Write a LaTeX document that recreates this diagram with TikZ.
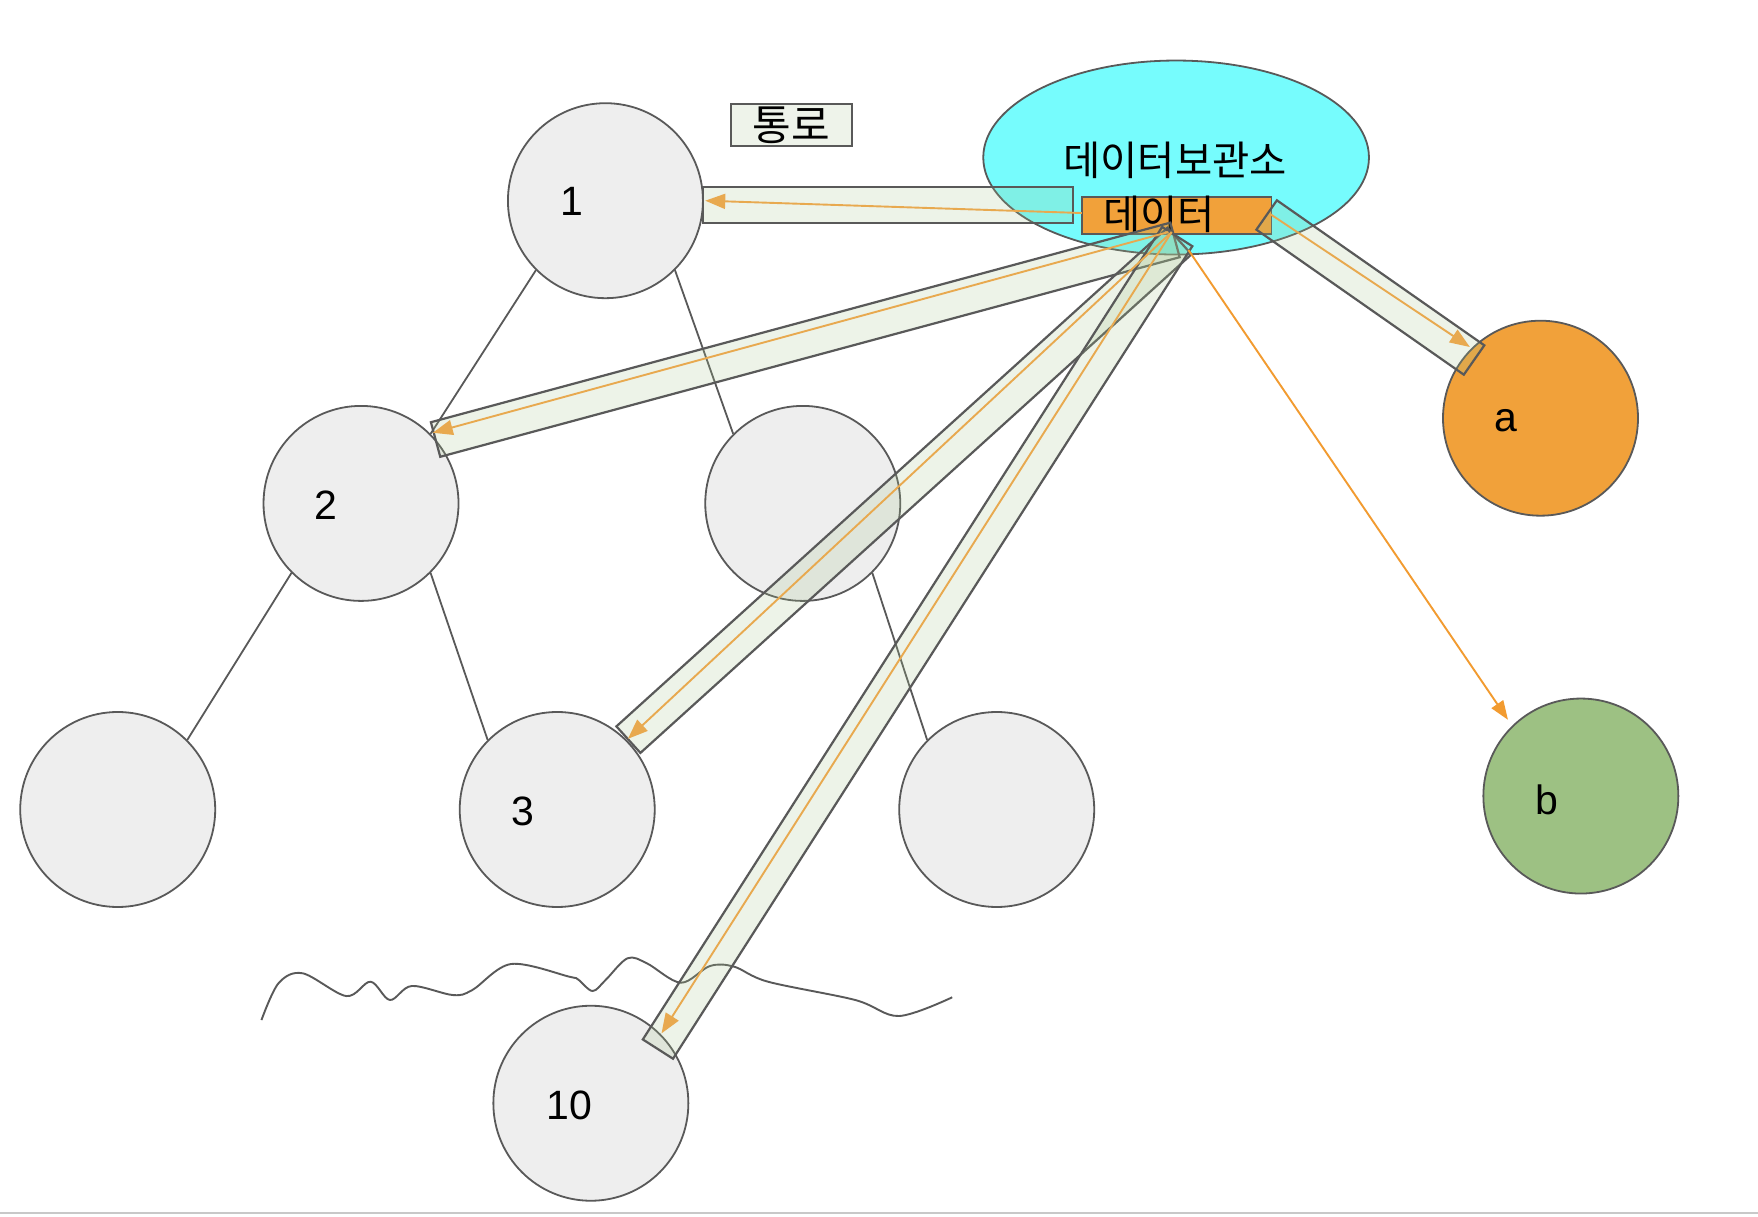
\documentclass[tikz,border=0pt]{standalone}
\usepackage{fontspec}
\setmainfont{Liberation Sans}
\newfontfamily\kr{Noto Sans CJK KR}
\usetikzlibrary{arrows.meta,calc,shapes.geometric}
\definecolor{nodegray}{HTML}{EEEEEE}
\definecolor{edgegray}{HTML}{595959}
\definecolor{orangeA}{HTML}{F1A13A}
\definecolor{greenB}{HTML}{9DC183}
\definecolor{cyanS}{HTML}{76FCFD}
\definecolor{tubefill}{RGB}{165,196,140}
\definecolor{arrowor}{HTML}{E8A94F}
\definecolor{lineor}{HTML}{F29B30}
\definecolor{passfill}{HTML}{EEF3EA}
\definecolor{framegray}{HTML}{C8C8C8}
\tikzset{
  tnode/.style={circle, minimum size=195pt, inner sep=0pt, draw=edgegray, line width=1.8pt, fill=nodegray},
  numlbl/.style={inner sep=0pt, font=\fontsize{41}{45}\selectfont},
  krlbl/.style={inner sep=0pt, font=\kr\fontsize{40.5}{44}\selectfont},
  treeedge/.style={draw=edgegray, line width=1.8pt},
  tube/.style={draw=edgegray, line width=2.2pt, fill=tubefill, fill opacity=0.2},
  flowarrow/.style={draw=arrowor, line width=1.9pt, -{Triangle[length=20pt,width=15pt]}},
  directarrow/.style={draw=lineor, line width=1.9pt, -{Triangle[length=19pt,width=14pt]}},
}
\newcommand\tubepath[2]{\path[tube] ($(#1)!17.9pt!90:(#2)$) -- ($(#2)!17.9pt!-90:(#1)$) -- ($(#2)!17.9pt!90:(#1)$) -- ($(#1)!17.9pt!-90:(#2)$) -- cycle;}
\begin{document}
\begin{tikzpicture}[x=1.12117pt, y=-1.12117pt]
\useasboundingbox (0,0) rectangle (1568,1084.6);
\fill[white] (0,0) rectangle (1568,1084.6);
\draw[framegray, line width=2pt] (0,1082) -- (1568,1082);

% tree nodes
\node[tnode] (n1) at (540,179) {};
\node[tnode] (n2) at (322,449) {};
\node[tnode] (nR) at (716,449) {};
\node[tnode] (nBL) at (105,722) {};
\node[tnode] (n3) at (497,722) {};
\node[tnode] (nBR) at (889,722) {};
\node[tnode] (n10) at (527,984) {};
\node[tnode, fill=orangeA] (na) at (1374,373) {};
\node[tnode, fill=greenB] (nb) at (1410,710) {};

\path[treeedge] (n1.225) -- (n2.45);
\path[treeedge] (n1.315) -- (nR.135);
\path[treeedge] (n2.225) -- (nBL.45);
\path[treeedge] (n2.315) -- (n3.135);
\path[treeedge] (nR.315) -- (nBR.135);

\node[numlbl] (l1) at (510,180) {1};
\node[numlbl] (l2) at (291,451) {2};
\node[numlbl] (l3) at (466,724) {3};
\node[numlbl] (l10) at (508,986) {10};
\node[numlbl] (la) at (1343,375) {a};
\node[numlbl] (lb) at (1380,713) {b};

% wavy line
\draw[edgegray, line width=1.9pt] plot[smooth, tension=0.55] coordinates {
 (233.2,909.8) (248.4,877) (270,868.1) (308.9,888.4) (330.5,875.6) (347.8,891.9)
 (367.3,879.4) (404,887.5) (421.3,883) (455.9,859.8) (507.7,871.1) (515.5,873.5)
 (528.5,883.9) (540.2,874) (559.7,854.7) (577,859.2) (607.2,876.5) (633.2,861.6)
 (654.8,862.2) (685,875.6) (762.8,891.9) (801.7,906.2) (849.3,889.5)};

% store
\node[ellipse, minimum width=385.7pt, minimum height=194pt, inner sep=0pt, draw=edgegray, line width=1.8pt, fill=cyanS] (store) at (1049,140.5) {};
\node[krlbl] (storelbl) at (1048,143) {데이터보관소};
\node[rectangle, minimum width=189.5pt, minimum height=37pt, inner sep=0pt, draw=edgegray, line width=1.8pt, fill=orangeA] (data) at (1049.5,192) {};
\node[krlbl] (datalbl) at (1034,191) {데이터};

% passage legend
\node[rectangle, minimum width=121pt, minimum height=41.5pt, inner sep=0pt, draw=edgegray, line width=1.8pt, fill=passfill, krlbl, font=\kr\fontsize{42}{46}\selectfont] (pass) at (706,111.5) {통로};

% tube axes
\coordinate (s1) at (957,183);   \coordinate (e1) at (627,183);
\coordinate (s2) at (1048,214);  \coordinate (e2) at (388.5,392);
\coordinate (s3) at (1052,215);  \coordinate (e3) at (560.5,659.7);
\coordinate (s10) at (1050,211); \coordinate (e10) at (586.8,935.7);
\coordinate (sa) at (1129.75,191.75); \coordinate (ea) at (1314.75,321.1);
\tubepath{s1}{e1}
\tubepath{s2}{e2}
\tubepath{s3}{e3}
\tubepath{s10}{e10}
\tubepath{sa}{ea}

% flow arrows
\coordinate (f1) at (965,190);   \coordinate (g1) at (629,179);
\coordinate (f2) at (1042,207);  \coordinate (g2) at (386,386);
\coordinate (f3) at (1045,207);  \coordinate (g3) at (560,659);
\coordinate (f10) at (1045,207); \coordinate (g10) at (590,921.7);
\coordinate (fa) at (1133,191);  \coordinate (ga) at (1311,309.5);
\coordinate (fb) at (1060,223);  \coordinate (gb) at (1345,642);
\draw[flowarrow] (f1) -- (g1);
\draw[flowarrow] (f2) -- (g2);
\draw[flowarrow] (f3) -- (g3);
\draw[flowarrow] (f10) -- (g10);
\draw[flowarrow] (fa) -- (ga);
\draw[directarrow] (fb) -- (gb);
\end{tikzpicture}
\end{document}
